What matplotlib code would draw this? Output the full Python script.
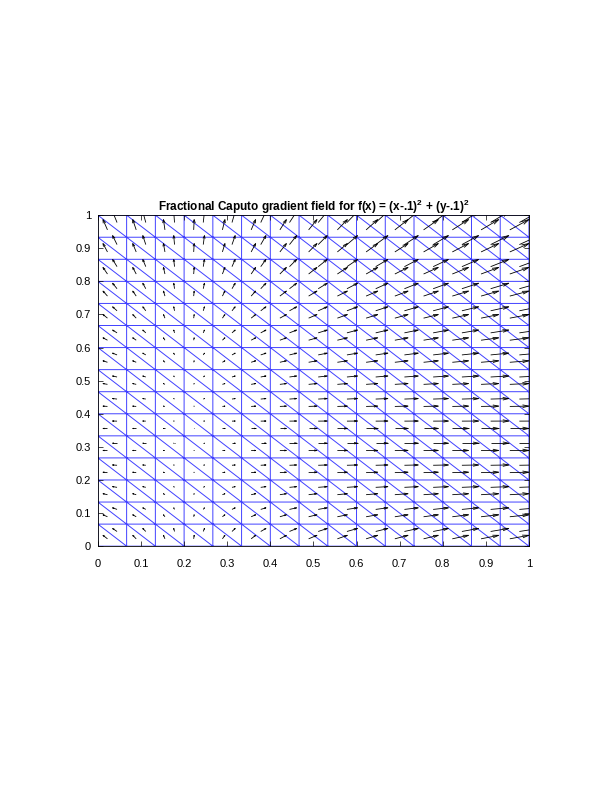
import numpy as np
import matplotlib
matplotlib.use("Agg")
import matplotlib.pyplot as plt
import matplotlib.tri as mtri
from matplotlib.collections import LineCollection

plt.rcParams['font.family'] = ['Liberation Sans', 'DejaVu Sans']
plt.rcParams['mathtext.fontset'] = 'custom'
plt.rcParams['mathtext.bf'] = 'Liberation Sans:bold'
plt.rcParams['mathtext.rm'] = 'Liberation Sans:bold'

# mesh: 15 x 15 squares, each split along the top-left -> bottom-right diagonal
n_cells = 15

# arrow components (axis units)
# u depends on x: values at the 30 centroid columns, left to right
u_x = [-0.0104, -0.0104, -0.0081, -0.0070, -0.0035, -0.0019, 0.0012, 0.0028,
       0.0058, 0.0074, 0.0104, 0.0121, 0.0151, 0.0167, 0.0193, 0.0209,
       0.0232, 0.0246, 0.0269, 0.0283, 0.0306, 0.0320, 0.0341, 0.0353,
       0.0376, 0.0387, 0.0408, 0.0420, 0.0441, 0.0452]
# v depends on y: values at the 30 centroid rows, bottom to top
v_y = [0.0106, 0.0091, 0.0060, 0.0048, 0.0030, 0.0021, 0.0012, 0.0009,
       0.0003, 0.0, 0.0, 0.0003, 0.0009, 0.0015, 0.0024, 0.0030,
       0.0045, 0.0054, 0.0073, 0.0085, 0.0109, 0.0121, 0.0151, 0.0166,
       0.0199, 0.0218, 0.0254, 0.0272, 0.0311, 0.0332]

ticks = [0, 0.1, 0.2, 0.3, 0.4, 0.5, 0.6, 0.7, 0.8, 0.9, 1]
tick_labels = ['0', '0.1', '0.2', '0.3', '0.4', '0.5', '0.6', '0.7', '0.8', '0.9', '1']
title = r'Fractional Caputo gradient field for f(x) = (x-.1)$^\mathbf{2}$ + (y-.1)$^\mathbf{2}$'

# nodes and triangles
g = np.linspace(0, 1, n_cells + 1)
X, Y = np.meshgrid(g, g)
px = X.ravel()
py = Y.ravel()
idx = lambda i, j: j * (n_cells + 1) + i
tris = []
cx, cy, cu, cv = [], [], [], []
for j in range(n_cells):
    for i in range(n_cells):
        a, b, c, d = idx(i, j), idx(i + 1, j), idx(i, j + 1), idx(i + 1, j + 1)
        tris.append([a, b, c])   # lower-left triangle
        tris.append([b, d, c])   # upper-right triangle
        for k, t in enumerate([[a, b, c], [b, d, c]]):
            cx.append(px[t].mean())
            cy.append(py[t].mean())
            cu.append(u_x[2 * i + k])
            cv.append(v_y[2 * j + k])
tri = mtri.Triangulation(px, py, np.array(tris))

cx = np.array(cx); cy = np.array(cy); cu = np.array(cu); cv = np.array(cv)

fig = plt.figure(figsize=(6.08, 7.87), dpi=100)
ax = fig.add_axes([0.161, 0.306, 0.709, 0.4206])

ax.triplot(tri, color=(0.25, 0.25, 1.0), lw=0.7)

# matlab style arrows (shaft + two head strokes)
alpha, beta = 0.33, 0.28
segs = []
for x, y, u, v in zip(cx, cy, cu, cv):
    tx, ty = x + u, y + v
    segs.append([(x, y), (tx, ty)])
    segs.append([(tx - alpha * (u + beta * v), ty - alpha * (v - beta * u)), (tx, ty),
                 (tx - alpha * (u - beta * v), ty - alpha * (v + beta * u))])
ax.add_collection(LineCollection(segs, colors='black', linewidths=0.6))

ax.set_xlim(0, 1)
ax.set_ylim(0, 1)
ax.set_xticks(ticks)
ax.set_xticklabels(tick_labels)
ax.set_yticks(ticks)
ax.set_yticklabels(tick_labels)
ax.tick_params(direction='in', length=3.5, width=0.5, top=True, right=True,
               labelsize=8)
ax.tick_params(axis='x', pad=9)
ax.tick_params(axis='y', pad=5)
for s in ax.spines.values():
    s.set_linewidth(0.6)
ax.set_title(title, fontsize=8.5, fontweight='bold', pad=3)

fig.savefig('out.png', dpi=100)
